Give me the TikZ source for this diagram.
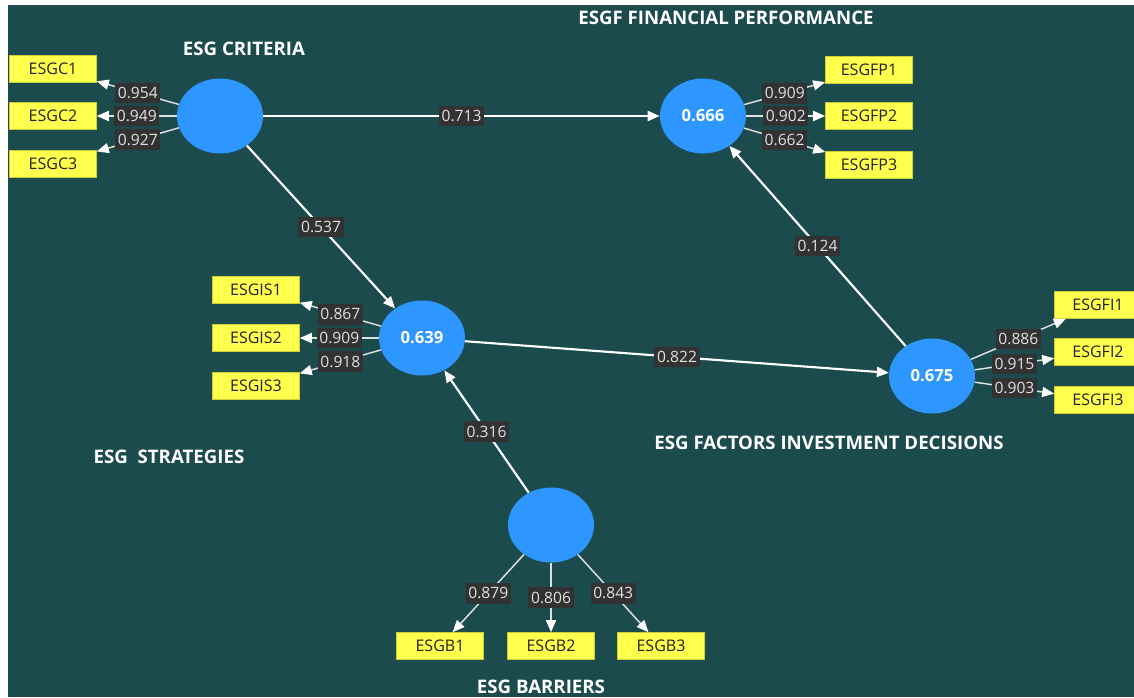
\documentclass[tikz,border=0pt]{standalone}
\usepackage{fontspec}
\setmainfont{Open Sans}
\usetikzlibrary{arrows.meta,shapes.geometric,calc}
\definecolor{bg}{RGB}{27,75,76}
\definecolor{lvblue}{RGB}{46,150,255}
\definecolor{ybox}{RGB}{255,255,77}
\definecolor{yedge}{RGB}{205,205,60}
\definecolor{lblbg}{RGB}{50,50,50}
\definecolor{lbltext}{RGB}{225,225,225}
\definecolor{boxtext}{RGB}{34,34,34}
\begin{document}
\begin{tikzpicture}[x=0.75pt,y=-0.75pt,
  latent/.style={ellipse,fill=lvblue,minimum width=64.5pt,minimum height=56.25pt,inner sep=0pt,
     text=white,font=\fontsize{12.5}{14}\selectfont\bfseries},
  indbox/.style={rectangle,fill=ybox,draw=yedge,line width=0.4pt,minimum width=65.25pt,minimum height=20.25pt,
     inner sep=0pt,text=boxtext,font=\fontsize{12}{14}\selectfont},
  wlbl/.style={rectangle,fill=lblbg,text=lbltext,inner xsep=2pt,minimum height=15.5pt,inner ysep=0pt,
     font=\fontsize{11.7}{13}\selectfont},
  ttl/.style={text=white,font=\fontsize{14}{16}\selectfont\bfseries,inner sep=0pt},
  spath/.style={draw=white,line width=1.6pt,-{Triangle[length=9pt,width=7.5pt]}},
  sload/.style={draw=white!88!black,line width=1.1pt,-{Triangle[length=9pt,width=7.5pt,color=white]}}
]
\useasboundingbox (0,0) rectangle (1134,697);
\clip (0,0) rectangle (1134,697);
\fill[white] (0,0) rectangle (1134,697);
\fill[bg] (8,5) rectangle (1134,697);

% latent variables
\node[latent] (crit) at (220,116) {};
\node[latent] (fp) at (703,116) {0.666};
\node[latent] (is) at (422,338) {0.639};
\node[latent] (fi) at (932,376) {0.675};
\node[latent] (bar) at (551,525) {};

% indicators
\node[indbox] (c1) at (53,69) {ESGC1};
\node[indbox] (c2) at (53,116) {ESGC2};
\node[indbox] (c3) at (53,164) {ESGC3};
\node[indbox] (fp1) at (869,70) {ESGFP1};
\node[indbox] (fp2) at (869,116) {ESGFP2};
\node[indbox] (fp3) at (869,165) {ESGFP3};
\node[indbox] (is1) at (256,290) {ESGIS1};
\node[indbox] (is2) at (256,338) {ESGIS2};
\node[indbox] (is3) at (256,386) {ESGIS3};
\node[indbox] (fi1) at (1098,305) {ESGFI1};
\node[indbox] (fi2) at (1098,352) {ESGFI2};
\node[indbox] (fi3) at (1098,400) {ESGFI3};
\node[indbox] (b1) at (440,646) {ESGB1};
\node[indbox] (b2) at (551,646) {ESGB2};
\node[indbox] (b3) at (661,646) {ESGB3};

% titles
\node[ttl] (tcrit) at (244,49) {ESG CRITERIA};
\node[ttl] (tfp) at (726,18) {ESGF FINANCIAL PERFORMANCE};
\node[ttl] (tis) at (169,457) {ESG\ \ STRATEGIES};
\node[ttl] (tfi) at (829,443) {ESG FACTORS INVESTMENT DECISIONS};
\node[ttl] (tbar) at (541,687) {ESG BARRIERS};

% loadings
\draw[sload] (crit) -- node[wlbl,midway]{0.954} (c1);
\draw[sload] (crit) -- node[wlbl,midway]{0.949} (c2);
\draw[sload] (crit) -- node[wlbl,midway]{0.927} (c3);
\draw[sload] (fp) -- node[wlbl,midway]{0.909} (fp1);
\draw[sload] (fp) -- node[wlbl,midway]{0.902} (fp2);
\draw[sload] (fp) -- node[wlbl,midway]{0.662} (fp3);
\draw[sload] (is) -- node[wlbl,midway]{0.867} (is1);
\draw[sload] (is) -- node[wlbl,midway]{0.909} (is2);
\draw[sload] (is) -- node[wlbl,midway]{0.918} (is3);
\draw[sload] (fi) -- node[wlbl,midway]{0.886} (fi1);
\draw[sload] (fi) -- node[wlbl,midway]{0.915} (fi2);
\draw[sload] (fi) -- node[wlbl,midway]{0.903} (fi3);
\draw[sload] (bar) -- node[wlbl,midway]{0.879} (b1);
\draw[sload] (bar) -- node[wlbl,midway]{0.806} (b2);
\draw[sload] (bar) -- node[wlbl,midway]{0.843} (b3);

% structural paths
\draw[spath] (crit) -- node[wlbl,midway]{0.713} (fp);
\draw[spath] (crit) -- node[wlbl,midway]{0.537} (is);
\draw[spath] (fi) -- node[wlbl,midway]{0.124} (fp);
\draw[spath] (is) -- node[wlbl,midway]{0.822} (fi);
\draw[spath] (bar) -- node[wlbl,midway]{0.316} (is);
\end{tikzpicture}
\end{document}
